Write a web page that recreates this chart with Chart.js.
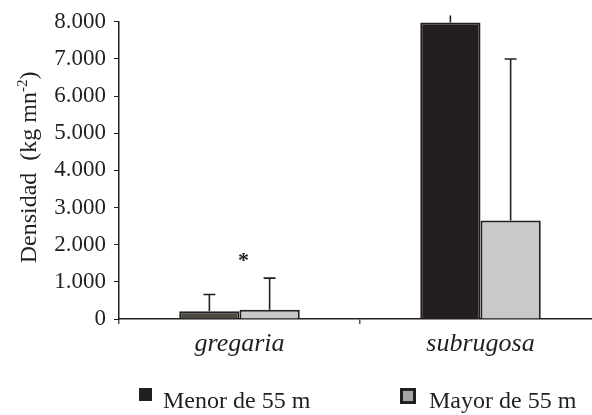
<!DOCTYPE html>
<html>
<head>
<meta charset="utf-8">
<script src="https://cdn.jsdelivr.net/npm/chart.js@4/dist/chart.umd.min.js"></script>
<style>
  html, body { margin: 0; padding: 0; overflow: hidden; background: #ffffff; }
  #c { display: block; }
</style>
</head>
<body>
<canvas id="c" width="601" height="415"></canvas>
<script>
// Density by species and depth class (mean and standard deviation)
const categories = ['gregaria', 'subrugosa'];
const menorLabel = 'Menor de 55 m';
const mayorLabel = 'Mayor de 55 m';
const menorMean = [210, 7980];
const menorSD = [450, 190];
const mayorMean = [250, 2650];
const mayorSD = [850, 4350];
const yTickValues = [0, 1000, 2000, 3000, 4000, 5000, 6000, 7000, 8000];
const significance = { category: 0, value: 1650, text: '*' };

const INK = '#231f20';
const SERIF = '"Liberation Serif", Tinos, "Times New Roman", Times, "Nimbus Roman", FreeSerif, serif';

function thousands(v) {
  return String(v).replace(/\B(?=(\d{3})+(?!\d))/g, '.');
}

// Error bars (upper whisker only), significance mark, axis title and legend
const extras = {
  id: 'extras',
  afterDatasetsDraw(chart) {
    const ctx = chart.ctx;
    const y = chart.scales.y;
    const x = chart.scales.x;
    const sds = [menorSD, mayorSD];
    ctx.save();
    ctx.strokeStyle = INK;
    ctx.lineWidth = 1.6;
    chart.data.datasets.forEach((ds, di) => {
      const meta = chart.getDatasetMeta(di);
      meta.data.forEach((bar, i) => {
        const top = ds.data[i] + sds[di][i];
        const yTop = y.getPixelForValue(top);
        ctx.beginPath();
        ctx.moveTo(bar.x, bar.y);
        ctx.lineTo(bar.x, yTop);
        if (top <= y.max) {
          ctx.moveTo(bar.x - 6, yTop);
          ctx.lineTo(bar.x + 6, yTop);
        }
        ctx.stroke();
      });
    });

    // significance asterisk
    ctx.fillStyle = INK;
    ctx.font = 'bold 22px ' + SERIF;
    ctx.textAlign = 'center';
    ctx.textBaseline = 'alphabetic';
    const m = ctx.measureText(significance.text);
    const cy = y.getPixelForValue(significance.value);
    const base = cy + (m.actualBoundingBoxAscent - m.actualBoundingBoxDescent) / 2;
    ctx.fillText(significance.text, x.getPixelForValue(significance.category) + 4, base);

    // y axis title with superscript
    const midY = (chart.chartArea.top + chart.chartArea.bottom) / 2 - 3;
    ctx.translate(36, midY);
    ctx.rotate(-Math.PI / 2);
    ctx.textAlign = 'left';
    const main = 'Densidad  (kg mn';
    const sup = '-2';
    const close = ')';
    ctx.font = '24px ' + SERIF;
    const wMain = ctx.measureText(main).width;
    const wClose = ctx.measureText(close).width;
    ctx.font = '15px ' + SERIF;
    const wSup = ctx.measureText(sup).width;
    const total = wMain + wSup + wClose;
    let px = -total / 2;
    ctx.font = '24px ' + SERIF;
    ctx.fillText(main, px, 0);
    px += wMain;
    ctx.font = '15px ' + SERIF;
    ctx.fillText(sup, px, -9);
    px += wSup;
    ctx.font = '24px ' + SERIF;
    ctx.fillText(close, px, 0);
    ctx.restore();

    // legend
    ctx.save();
    ctx.font = '24px ' + SERIF;
    ctx.textBaseline = 'alphabetic';
    ctx.textAlign = 'left';
    // first item: solid square
    ctx.fillStyle = INK;
    ctx.fillRect(139, 388, 13, 13);
    ctx.fillText(menorLabel, 163, 408);
    // second item: framed grey square
    ctx.fillStyle = '#a5a5a5';
    ctx.fillRect(401, 389, 14, 13);
    ctx.strokeStyle = INK;
    ctx.lineWidth = 3;
    ctx.strokeRect(401.5, 389.5, 13, 13);
    ctx.fillStyle = INK;
    ctx.fillText(mayorLabel, 429, 408);
    ctx.restore();
  }
};

new Chart(document.getElementById('c'), {
  type: 'bar',
  data: {
    labels: categories,
    datasets: [
      {
        label: menorLabel,
        data: menorMean,
        backgroundColor: ['#4b4a40', INK],
        borderColor: INK,
        borderWidth: 2,
        barPercentage: 1,
        categoryPercentage: 0.5
      },
      {
        label: mayorLabel,
        data: mayorMean,
        backgroundColor: '#c8c9cb',
        borderColor: INK,
        borderWidth: 2,
        barPercentage: 1,
        categoryPercentage: 0.5
      }
    ]
  },
  options: {
    responsive: false,
    animation: false,
    devicePixelRatio: 1,
    layout: { padding: { top: 20, right: 0, bottom: 0, left: 0 } },
    plugins: {
      legend: { display: false },
      tooltip: { enabled: false },
      title: { display: false }
    },
    scales: {
      x: {
        offset: true,
        grid: {
          display: true,
          drawOnChartArea: false,
          drawTicks: true,
          tickLength: 5,
          color: '#555',
          lineWidth: 1.5,
          offset: true
        },
        border: { display: true, color: INK, width: 1.5 },
        ticks: {
          color: INK,
          font: { family: SERIF, size: 26, style: 'italic' },
          padding: 5,
          maxRotation: 0
        },
        afterFit(scale) { scale.height = 96; }
      },
      y: {
        min: 0,
        max: 8000,
        afterBuildTicks(scale) {
          scale.ticks = yTickValues.map(v => ({ value: v }));
        },
        grid: {
          display: true,
          drawOnChartArea: false,
          drawTicks: true,
          tickLength: 5,
          color: INK,
          lineWidth: 1
        },
        border: { display: true, color: INK, width: 1.5 },
        ticks: {
          color: INK,
          font: { family: SERIF, size: 23 },
          padding: 8,
          callback: v => thousands(v)
        },
        afterFit(scale) { scale.width = 119; }
      }
    }
  },
  plugins: [extras]
});
</script>
</body>
</html>
